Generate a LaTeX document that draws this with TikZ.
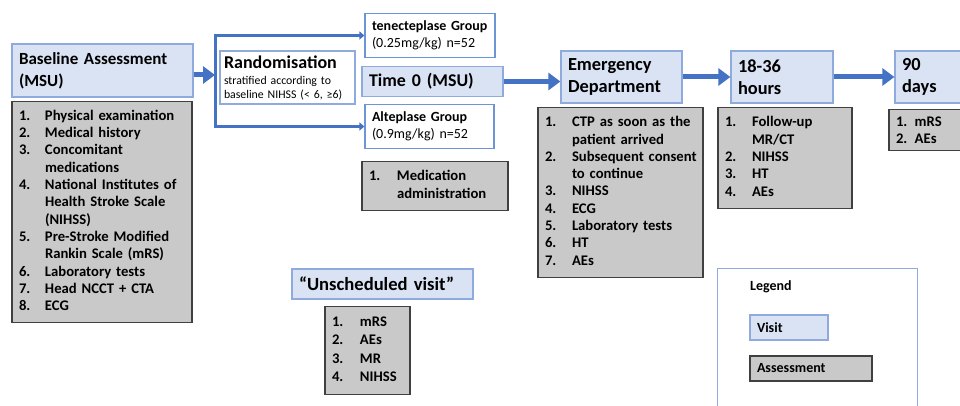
\documentclass[tikz,border=0pt]{standalone}
\usepackage{fontspec}
\setmainfont{Carlito}
\usetikzlibrary{arrows.meta, positioning, calc}
\definecolor{visitFill}{RGB}{218,227,243}
\definecolor{visitLine}{RGB}{143,170,220}
\definecolor{groupLine}{RGB}{110,148,216}
\definecolor{assessFill}{RGB}{201,201,201}
\definecolor{assessLine}{RGB}{64,64,64}
\definecolor{flowBlue}{RGB}{68,114,196}
\newcommand{\bigtxt}{\fontsize{18.4}{22}\selectfont}
\newcommand{\midtxt}{\fontsize{18}{20}\selectfont}
\newcommand{\listtxt}{\fontsize{14.67}{17.3}\selectfont}
\newcommand{\grptxt}{\fontsize{14}{17}\selectfont}
\newcommand{\smalltxt}{\fontsize{11.8}{13.5}\selectfont}
\newcommand{\legtxt}{\fontsize{14}{16}\selectfont}

\begin{document}
\begin{tikzpicture}[x=1pt, y=-1pt,
    visit/.style={draw=visitLine, fill=visitFill, line width=1.2pt, inner sep=7pt, align=left, font=\bfseries\bigtxt},
    group/.style={draw=groupLine, fill=white, line width=1.2pt, inner sep=7pt, align=left, font=\grptxt},
    assess/.style={draw=assessLine, fill=assessFill, line width=1.2pt, inner sep=7pt, align=left, font=\bfseries\listtxt},
    flow/.style={draw=flowBlue, line width=5pt, -{Triangle[length=12pt,width=17pt]}},
    split/.style={draw=flowBlue, line width=3pt, {Triangle[length=5pt,width=8pt]}-{Triangle[length=5pt,width=8pt]}}]
    \useasboundingbox (0,0) rectangle (960,406);

    % baseline
    \node[visit, minimum width=181pt, minimum height=53pt, text width=167pt, font=\bfseries\fontsize{17}{22}\selectfont] (base) at (102.5,70.5) {Baseline Assessment\\(MSU)};
    \node[assess, minimum width=180pt, minimum height=216pt, text width=166pt] (baselist) at (102,212) {\begin{tabular}{@{}p{26pt}@{}l@{}}
        1. & Physical examination\\
        2. & Medical history\\
        3. & Concomitant\\
           & medications\\
        4. & National Institutes of\\
           & Health Stroke Scale\\
           & (NIHSS)\\
        5. & Pre-Stroke Modified\\
           & Rankin Scale (mRS)\\
        6. & Laboratory tests\\
        7. & Head NCCT + CTA\\
        8. & ECG
    \end{tabular}};

    % randomisation
    \node[group, draw=visitLine, minimum width=135pt, minimum height=53pt, text width=127pt, inner sep=4pt, font=\smalltxt] (rand) at (287.5,77.5) {{\bfseries\midtxt Randomisation}\\[3pt]stratified according to\\baseline NIHSS (< 6, ≥6)};
    \coordinate (brk) at (215,75);

    \node[group, minimum width=130pt, minimum height=41pt, text width=116pt] (teneck) at (430,35.5) {{\bfseries tenecteplase Group}\\(0.25mg/kg) n=52};
    \node[visit, minimum width=141pt, minimum height=29pt, text width=127pt, font=\bfseries\fontsize{17.9}{20}\selectfont] (time0) at (432.5,81.5) {Time 0 (MSU)};
    \node[group, minimum width=129pt, minimum height=41pt, text width=115pt] (alte) at (429.5,126.5) {{\bfseries Alteplase Group}\\(0.9mg/kg) n=52};
    \node[assess, minimum width=146pt, minimum height=42pt, text width=132pt] (medlist) at (435,186) {\begin{tabular}{@{}p{28pt}@{}l@{}}
        1. & Medication\\
           & administration
    \end{tabular}};

    % emergency department
    \node[visit, minimum width=121pt, minimum height=52pt, text width=107pt] (ed) at (621.5,77) {Emergency\\Department};
    \node[assess, minimum width=165pt, minimum height=167pt, text width=151pt] (edlist) at (620.5,192.5) {\begin{tabular}{@{}p{27pt}@{}l@{}}
        1. & CTP as soon as the\\
           & patient arrived\\
        2. & Subsequent consent\\
           & to continue\\
        3. & NIHSS\\
        4. & ECG\\
        5. & Laboratory tests\\
        6. & HT\\
        7. & AEs
    \end{tabular}};

    % 18-36 hours
    \node[visit, minimum width=102pt, minimum height=52pt, text width=88pt] (hrs) at (782,77) {18-36\\hours};
    \node[assess, minimum width=134pt, minimum height=96pt, text width=120pt] (hrslist) at (785,158) {\begin{tabular}{@{}p{27pt}@{}l@{}}
        1. & Follow-up\\
           & MR/CT\\
        2. & NIHSS\\
        3. & HT\\
        4. & AEs
    \end{tabular}};

    % 90 days
    \node[visit, minimum width=80pt, minimum height=52pt, text width=66pt] (days) at (935,77) {90\\days};
    \node[assess, minimum width=81pt, minimum height=40pt, text width=67pt] (dayslist) at (929.5,130) {1. mRS\\2. AEs};

    % unscheduled visit
    \node[visit, minimum width=181pt, minimum height=30pt, text width=167pt, font=\bfseries\fontsize{18.6}{21}\selectfont] (unsched) at (382.5,284) {“Unscheduled visit”};
    \node[assess, minimum width=85pt, minimum height=85pt, text width=71pt, font=\bfseries\fontsize{14.67}{18.5}\selectfont] (unschedlist) at (367.5,350.5) {\begin{tabular}{@{}p{28pt}@{}l@{}}
        1. & mRS\\
        2. & AEs\\
        3. & MR\\
        4. & NIHSS
    \end{tabular}};

    % legend
    \node[draw=visitLine, line width=1pt, minimum width=200pt, minimum height=152pt] (legend) at (817,344) {};
    \node[anchor=west, inner sep=0pt, font=\bfseries\legtxt] (legtitle) at (750,287) {Legend};
    \node[visit, minimum width=78pt, minimum height=25pt, text width=64pt, font=\bfseries\legtxt] (legvisit) at (789,327.5) {Visit};
    \node[assess, minimum width=122pt, minimum height=25pt, text width=108pt, font=\bfseries\legtxt] (legassess) at (811,368.5) {Assessment};

    % connectors
    \draw[flow] (base.east |- brk) -- (brk);
    \draw[split] (teneck.west) -| (brk) |- (alte.west);
    \draw[flow] (time0.east) -- (time0.east -| ed.west);
    \draw[flow] (ed.east) -- (hrs.west);
    \draw[flow] (hrs.east) -- (days.west);
\end{tikzpicture}
\end{document}
